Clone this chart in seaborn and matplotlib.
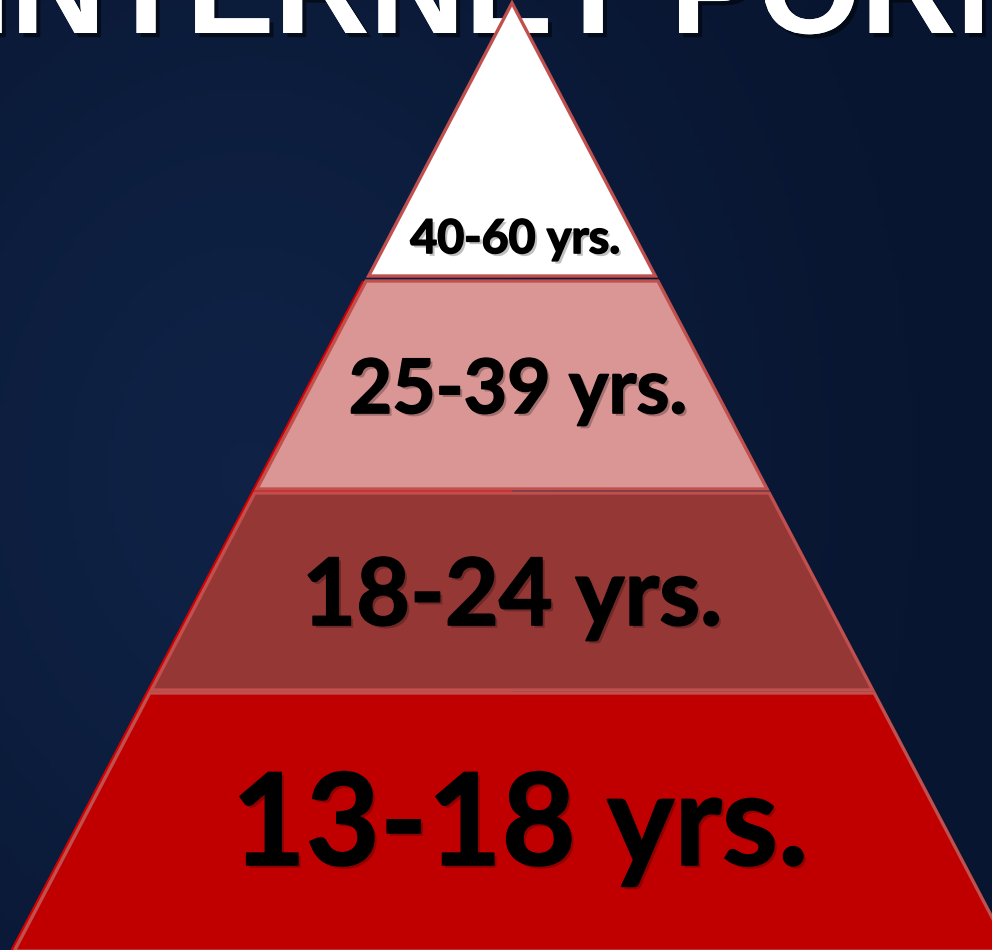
import numpy as np
import matplotlib
matplotlib.use("Agg")
import matplotlib.pyplot as plt
import matplotlib.patheffects as pe
from matplotlib.colors import LinearSegmentedColormap
import seaborn as sns

sns.set_style("white")
plt.rcParams['font.family'] = ['Lato', 'DejaVu Sans']

# ---- data ----
title = "INTERNET PORN"
labels = ["40-60 yrs.", "25-39 yrs.", "18-24 yrs.", "13-18 yrs."]
fill_colors = ["#FFFFFF", "#D99694", "#953735", "#C00000"]

# ---- layout / style ----
W, H = 992, 950
band_top = [3, 281, 493, 693]
band_bot = [276, 489, 690, 951]
label_size = [33.5, 54, 67, 92]
label_x = [515, 518, 512, 520]
label_base = [253, 413, 625, 865]
apex_x, apex_y, slope = 512, 3, 0.525
edge_color = "#C0504D"

fig = plt.figure(figsize=(W / 100, H / 100), dpi=100)
ax = fig.add_axes([0, 0, 1, 1])
ax.set_xlim(0, W)
ax.set_ylim(H, 0)
ax.axis("off")

# background gradient (navy)
xx = np.linspace(0, 1, 200)
yy = np.linspace(0, 1, 200)
X, Y = np.meshgrid(xx, yy)
G = np.exp(-(((X - 0.25) / 0.45) ** 2 + ((Y - 0.5) / 0.6) ** 2))
cmap = LinearSegmentedColormap.from_list("bg", ["#081530", "#0F2245"])
ax.imshow(G, cmap=cmap, extent=(0, W, H, 0), aspect="auto", zorder=0)


def hw(y):
    return slope * (y - apex_y)


# red backing strip visible at the left edge
yb0, yb1 = band_top[1], band_bot[3]
ax.fill([apex_x - hw(yb0) - 4, apex_x, apex_x, apex_x - hw(yb1) - 4],
        [yb0, yb0, yb1, yb1], color="#D40000", lw=0, zorder=1)

for i, (t, b, c) in enumerate(zip(band_top, band_bot, fill_colors)):
    xs = [apex_x - hw(t), apex_x + hw(t), apex_x + hw(b), apex_x - hw(b)]
    ys = [t, t, b, b]
    ax.fill(xs, ys, facecolor=c, edgecolor=edge_color, lw=2.4,
            joinstyle="miter", zorder=2 + i)

for lab, s, x, yb in zip(labels, label_size, label_x, label_base):
    effects = [pe.withSimplePatchShadow(offset=(2, -2), shadow_rgbFace="black", alpha=0.25),
               pe.Stroke(linewidth=1.2, foreground="black"),
               pe.Normal()]
    ax.text(x, yb, lab, fontsize=s, fontweight="bold", color="black",
            ha="center", va="baseline", zorder=10, path_effects=effects)

# title, cut off at the top of the picture (as in the reference)
ax.text(513, 33, title, fontsize=95, color="white", ha="center", va="baseline",
        family=["Liberation Sans", "DejaVu Sans"], fontweight="bold", zorder=1.5,
        path_effects=[pe.withSimplePatchShadow(offset=(3, -3), shadow_rgbFace="black", alpha=0.5),
                      pe.Normal()])

fig.savefig("out.png", dpi=100, facecolor="#0B1B38")
